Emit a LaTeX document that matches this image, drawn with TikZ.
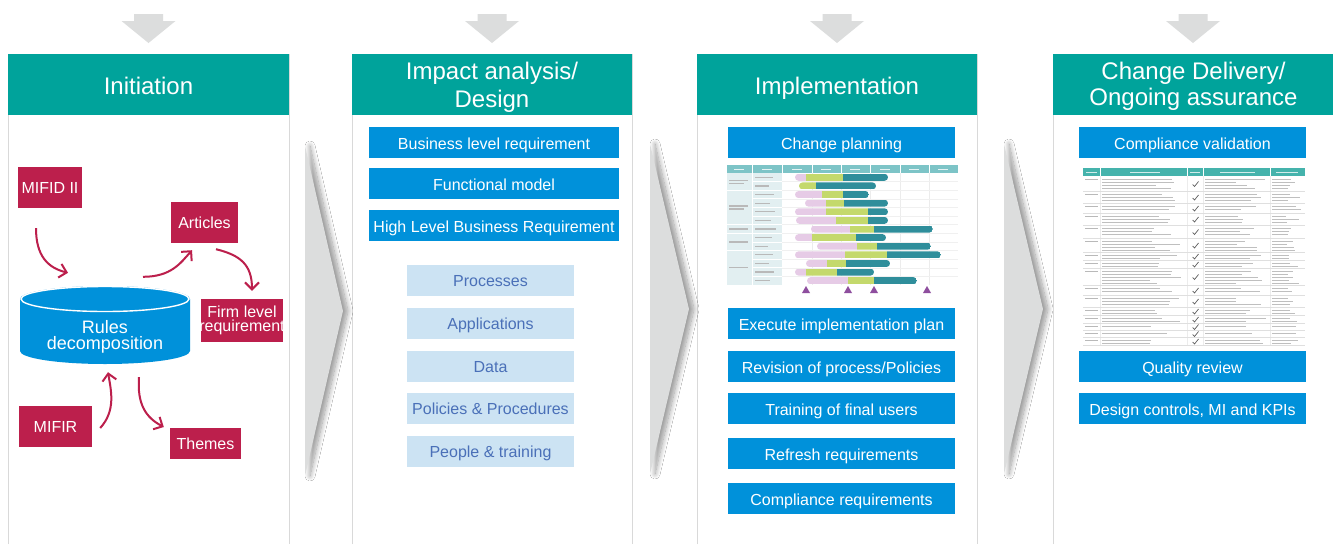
\documentclass[tikz,border=0pt]{standalone}
\usepackage{fontspec}
\setmainfont{Liberation Sans}
\usetikzlibrary{arrows.meta,shadows.blur,calc}
\definecolor{teal1}{HTML}{00A39B}
\definecolor{bluebox}{HTML}{0091DA}
\definecolor{crim}{HTML}{BC1F4C}
\definecolor{lightbox}{HTML}{CCE3F3}
\definecolor{lighttext}{HTML}{4A70B8}
\definecolor{chev}{HTML}{DCDDDD}
\definecolor{pborder}{HTML}{D9D9D9}
\definecolor{gpink}{HTML}{E6CBE6}
\definecolor{ggreen}{HTML}{C4D96C}
\definecolor{gteal}{HTML}{2F8E9B}
\definecolor{ghead}{HTML}{7DC4C7}
\definecolor{gcell}{HTML}{E2EFF1}
\definecolor{gtri}{HTML}{8E4E9E}
\definecolor{thead}{HTML}{45B3AC}
\tikzset{
  header/.style={fill=teal1, text=white, font=\fontsize{24}{28}\selectfont, align=center, inner sep=0pt, minimum width=281pt, minimum height=61pt},
  header1/.style={header, text height=20.2pt, text depth=0pt},
  bbox/.style={fill=bluebox, text=white, font=\fontsize{16}{18}\selectfont, inner sep=0pt, minimum height=31pt, text height=13.5pt, text depth=0pt},
  lbox/.style={fill=lightbox, text=lighttext, font=\fontsize{16}{18}\selectfont, inner sep=0pt, minimum width=167pt, minimum height=31pt, text height=12.5pt, text depth=0pt},
  rbox/.style={fill=crim, text=white, font=\fontsize{16}{14.5}\selectfont, inner sep=0pt, align=center},
  rbox1/.style={rbox, text height=12.5pt, text depth=0pt},
  carrow/.style={draw=crim, line width=2pt, -{Straight Barb[length=7pt,width=14pt]}},
  chevron/.style={fill=chev, blur shadow={shadow xshift=5pt, shadow yshift=0pt, shadow blur steps=12, shadow blur radius=5pt, shadow opacity=40}},
  toparrow/.style={fill=chev},
  panelline/.style={draw=pborder, line width=1pt},
  ph/.style={gray!50, line width=1pt},
}
\begin{document}
\begin{tikzpicture}[x=1pt,y=-1pt]
\useasboundingbox (0,0) rectangle (1333,544);
\fill[white] (0,0) rectangle (1333,544);

% top arrows
\foreach \cx in {148.5,492,837,1193}{
  \fill[toparrow] (\cx-14.5,14) -- (\cx+14.5,14) -- (\cx+14.5,21) -- (\cx+27,21) -- (\cx,43) -- (\cx-27,21) -- (\cx-14.5,21) -- cycle;
}

% panels
\draw[panelline] (8,544) -- (8,54) -- (289,54) -- (289,544);
\draw[panelline] (352,544) -- (352,54) -- (632,54) -- (632,544);
\draw[panelline] (697,544) -- (697,54) -- (977,54) -- (977,544);
\draw[panelline] (1053,544) -- (1053,54) -- (1334,54);

\node[header1] (h1) at (148.5,84.5) {Initiation};
\node[header, minimum width=280pt] at (492,84.5) {};
\node[text=white, font=\fontsize{24}{28}\selectfont, align=center, inner sep=0pt] (h2) at (492,87) {Impact analysis/\\Design};
\node[header1, minimum width=280pt] (h3) at (837,84.5) {Implementation};
\node[header] at (1193.5,84.5) {};
\node[text=white, font=\fontsize{24}{26}\selectfont, align=center, inner sep=0pt] (h4) at (1193.5,86.5) {Change Delivery/\\Ongoing assurance};

% chevrons
\fill[chevron] (305,146) -- (343,311) -- (305,476) -- cycle;
\fill[chevron] (650,144) -- (689,309) -- (650,474) -- cycle;
\fill[chevron] (1004,144) -- (1043,309) -- (1004,474) -- cycle;

% ---- Initiation ----
\path[fill=bluebox] (20,299) -- (20,351) arc[start angle=180, end angle=360, x radius=85pt, y radius=13pt] -- (190,299) arc[start angle=0, end angle=180, x radius=85pt, y radius=13pt] -- cycle;
\draw[white, line width=1.4pt] (105,299) ellipse[x radius=84pt, y radius=12.5pt];
\node[text=white, font=\fontsize{18}{16}\selectfont, align=center, minimum width=170pt, minimum height=60pt, inner sep=0pt] (rules) at (105,337) {Rules\\decomposition};

\node[rbox1, minimum width=64pt, minimum height=41pt] (mifid) at (50,187.5) {MIFID II};
\node[rbox1, minimum width=67pt, minimum height=41pt] (articles) at (204.5,222.5) {Articles};
\node[rbox, minimum width=82pt, minimum height=43pt] (firm) at (242,320.5) {Firm level\\\makebox[0pt]{requirement}};
\node[rbox1, minimum width=73pt, minimum height=41pt] (mifir) at (55.5,426.5) {MIFIR};
\node[rbox1, minimum width=71pt, minimum height=31pt] (themes) at (205.5,443.5) {Themes};

\draw[carrow] ($(mifid.south)+(-14,20)$) .. controls ($(mifid.south)+(-14,48)$) and ($(rules.north)+(-57,-39)$) .. ($(rules.north)+(-37,-34)$);
\draw[carrow] ($(rules.north)+(38,-30)$) .. controls ($(rules.north)+(66,-30)$) and ($(articles.south)+(-24,20)$) .. ($(articles.south)+(-12.5,7)$);
\draw[carrow] ($(articles.south)+(11.5,6)$) .. controls ($(articles.south)+(36,12)$) and ($(firm.north)+(10,-34)$) .. ($(firm.north)+(10,-8)$);
\draw[carrow] ($(mifir.east)+(8,1.5)$) .. controls ($(mifir.east)+(24,-16)$) and ($(rules.south)+(6,23)$) .. ($(rules.south)+(3,5)$);
\draw[carrow] ($(rules.south)+(34,10)$) .. controls ($(rules.south)+(32,37)$) and ($(themes.west)+(-24,-26)$) .. ($(themes.west)+(-6,-16.5)$);

% ---- Impact analysis / Design ----
\node[bbox, minimum width=250pt] (b1) at (494,142.5) {Business level requirement};
\node[bbox, minimum width=250pt] (b2) at (494,183.5) {Functional model};
\node[bbox, minimum width=250pt] (b3) at (494,225.5) {High Level Business Requirement};
\node[lbox] (l1) at (490.5,280.5) {Processes};
\node[lbox] (l2) at (490.5,323.5) {Applications};
\node[lbox] (l3) at (490.5,366.5) {Data};
\node[lbox] (l4) at (490.5,408.5) {Policies \& Procedures};
\node[lbox] (l5) at (490.5,451.5) {People \& training};

% ---- Implementation ----
\node[bbox, minimum width=227pt] (c1) at (841.5,142.5) {Change planning};
% gantt chart
\fill[ghead] (727,165) rectangle (958,173);
\foreach \xx in {752,782,812,841,870,900,929}{\draw[white, line width=0.5pt] (\xx,165) -- (\xx,173);}
\foreach \xx in {739,767,797,826,855,885,914,943}{\draw[white!80!ghead, line width=1pt] (\xx-5,169) -- (\xx+5,169);}
\fill[gcell] (727,173) rectangle (782,285);
\foreach \xx in {812,841,870,900,929}{\draw[gray!15, line width=0.5pt] (\xx,173) -- (\xx,285);}
\foreach \r in {1,...,12}{
  \draw[white, line width=0.8pt] (752,{173+\r*8.615}) -- (782,{173+\r*8.615});
  \draw[gray!12, line width=0.4pt] (782,{173+\r*8.615}) -- (958,{173+\r*8.615});
}
\foreach \r in {2,6,7,9}{\draw[white, line width=0.8pt] (727,{173+\r*8.615}) -- (752,{173+\r*8.615});}
\draw[white, line width=0.8pt] (752,173) -- (752,285);
\foreach \r in {1,...,13}{\draw[gray!55, line width=1.2pt] (755,{173+(\r-0.5)*8.615}) -- ({768+mod(\r*5,9)},{173+(\r-0.5)*8.615});}
\foreach \g/\n in {1.5/2,4.5/2,7/1,8.5/1,11.5/1}{
  \draw[gray!55, line width=1.2pt] (729,{173+(\g-0.5)*8.615-1.5*(\n-1)}) -- (748,{173+(\g-0.5)*8.615-1.5*(\n-1)});
  \ifnum\n=2 \draw[gray!55, line width=1.2pt] (729,{173+(\g-0.5)*8.615+1.5}) -- (744,{173+(\g-0.5)*8.615+1.5}); \fi
}
\foreach \i/\p/\g/\t/\e in {1/795/806/843/888, 2/799/799/816/876, 3/795/822/843/869, 4/805/826/844/888, 5/795/826/868/888, 6/796/836/868/888, 7/811/850/874/933, 8/795/812/856/886, 9/817/857/877/931, 10/795/845/887/941, 11/806/827/846/890, 12/795/806/837/874, 13/807/848/874/917}{
  \pgfmathsetmacro\yc{173+(\i-0.5)*8.615}
  \begin{scope}
    \clip[rounded corners=3.5pt] (\p,\yc-3.5) rectangle (\e,\yc+3.5);
    \fill[gpink] (\p,\yc-3.5) rectangle (\g,\yc+3.5);
    \fill[ggreen] (\g,\yc-3.5) rectangle (\t,\yc+3.5);
    \fill[gteal] (\t,\yc-3.5) rectangle (\e,\yc+3.5);
  \end{scope}
}
\foreach \xx in {806,848,874,927}{\fill[gtri] (\xx-4,293) -- (\xx,286) -- (\xx+4,293) -- cycle;}

\node[bbox, minimum width=227pt] (c2) at (841.5,323.5) {Execute implementation plan};
\node[bbox, minimum width=227pt] (c3) at (841.5,366.5) {Revision of process/Policies};
\node[bbox, minimum width=227pt] (c4) at (841.5,408.5) {Training of final users};
\node[bbox, minimum width=227pt] (c5) at (841.5,453.5) {Refresh requirements};
\node[bbox, minimum width=227pt] (c6) at (841.5,498.5) {Compliance requirements};

% ---- Change delivery ----
\node[bbox, minimum width=227pt] (d1) at (1192.5,142.5) {Compliance validation};
% table
\fill[thead] (1083,168) rectangle (1305,176);
\foreach \xx in {1100,1187,1203,1270}{\draw[white, line width=0.6pt] (\xx,168) -- (\xx,176);}
\foreach \xa/\xb in {1086/1097,1130/1160,1190/1200,1220/1255,1276/1298}{\draw[white!75!thead, line width=1pt] (\xa,172) -- (\xb,172);}
\foreach \xx in {1100,1187,1203,1270}{\draw[gray!15, line width=0.4pt] (\xx,176) -- (\xx,345);}
\pgfmathsetseed{11}
\foreach \a/\b in {176/191,191/203,203/213,213/225,225/238,238/252,252/260,260/268,268/285,285/295,295/307,307/315,315/323,323/330,330/337,337/345}{
  \draw[gray!25, line width=0.4pt] (1083,\b) -- (1305,\b);
  \pgfmathsetmacro\ym{(\a+\b)/2+1}
  \draw[gray!75!black, line width=0.7pt] (1192.5,\ym) -- (1194.5,\ym+2) -- (1198.5,\ym-3);
  \draw[gray!55, line width=1pt] (1085,\a+3) -- (1098,\a+3);
  \pgfmathtruncatemacro\nl{max(1,floor((\b-\a-2)/3))}
  \foreach \k in {1,...,\nl}{
    \pgfmathsetmacro\yy{\a+\k*3}
    \pgfmathsetmacro\la{1150+rnd*34}
    \pgfmathsetmacro\lb{1235+rnd*32}
    \pgfmathsetmacro\lc{1285+rnd*17}
    \draw[ph] (1102,\yy) -- (\la,\yy);
    \draw[ph] (1205,\yy) -- (\lb,\yy);
    \draw[ph] (1272,\yy) -- (\lc,\yy);
  }
}
\node[bbox, minimum width=227pt] (d2) at (1192.5,366.5) {Quality review};
\node[bbox, minimum width=227pt] (d3) at (1192.5,408.5) {Design controls, MI and KPIs};
\end{tikzpicture}
\end{document}
